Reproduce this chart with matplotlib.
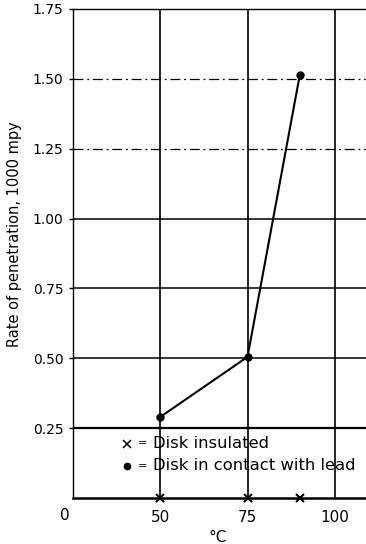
import matplotlib
matplotlib.use("Agg")
import matplotlib.pyplot as plt

# Data
contact_temp = [50, 75, 90]
contact_rate = [0.29, 0.505, 1.515]
insulated_temp = [50, 75, 90]
insulated_rate = [0.0, 0.0, 0.0]
y_ticks = [0.25, 0.50, 0.75, 1.00, 1.25, 1.50, 1.75]
y_tick_labels = ["0.25", "0.50", "0.75", "1.00", "1.25", "1.50", "1.75"]
x_ticks = [50, 75, 100]
x_tick_labels = ["50", "75", "100"]

plt.rcParams['font.family'] = ['DejaVu Sans']
W, H = 366, 544
fig = plt.figure(figsize=(W / 100, H / 100), dpi=100)
ax = fig.add_axes([73 / W, 1 - 498 / H, 1 - 73 / W + 0.01, (498 - 9) / H])

ax.set_xlim(25, 110)
ax.set_ylim(0, 1.75)

# grid lines
for xv in x_ticks:
    ax.axvline(xv, color='black', lw=1.2, zorder=1)
for yv in [0.25, 0.50, 0.75, 1.00]:
    ax.axhline(yv, color='black', lw=1.6 if yv == 0.25 else 1.1, zorder=1)
for yv in [1.25, 1.50]:
    ax.axhline(yv, color='black', lw=0.9, ls=(0, (8, 3, 1.5, 3)), zorder=1)

ax.plot(contact_temp, contact_rate, color='black', lw=1.5, marker='o', ms=5, zorder=3, clip_on=False)
ax.plot(insulated_temp, insulated_rate, ls='none', color='black', marker='x', ms=6, mew=1.5, zorder=4, clip_on=False)

ax.spines['right'].set_visible(False)
ax.spines['left'].set_linewidth(1.0)
ax.spines['top'].set_linewidth(1.0)
ax.spines['bottom'].set_linewidth(1.8)

ax.set_yticks(y_ticks)
ax.set_yticklabels(y_tick_labels, fontsize=10)
ax.set_xticks(x_ticks)
ax.set_xticklabels(x_tick_labels, fontsize=11)
ax.tick_params(axis='y', length=3, width=1, pad=4)
ax.tick_params(axis='x', length=0, pad=9)

fig.text(65 / W, 1 - 515 / H, "0", ha='center', va='center', fontsize=11)

fig.text(15 / W, 1 - 234 / H, "Rate of penetration, 1000 mpy", fontsize=10.5,
         rotation=90, ha='center', va='center')
fig.text(218 / W, 1 - 537 / H, "°C", fontsize=11, ha='center', va='center')

# legend as text
ax.plot([40.5], [0.195], ls='none', marker='x', color='black', ms=5.5, mew=1.1)
ax.text(44.8, 0.195, "=", fontsize=8, va='center', ha='center')
ax.text(48.0, 0.195, "Disk insulated", fontsize=11.8, va='center', ha='left')
ax.plot([40.5], [0.115], ls='none', marker='o', color='black', ms=4.5)
ax.text(44.8, 0.115, "=", fontsize=8, va='center', ha='center')
ax.text(48.0, 0.115, "Disk in contact with lead", fontsize=11.8, va='center', ha='left')

fig.savefig("out.png", dpi=100)
